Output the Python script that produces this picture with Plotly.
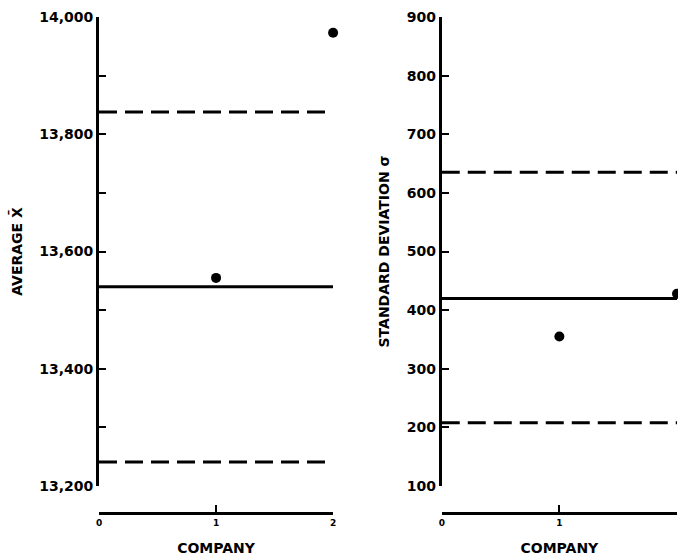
import plotly.graph_objects as go

# -------------------------------------------------
# DATA
# -------------------------------------------------
companies = [1, 2]
limit_x = [0, 2]
company_ticks = [0, 1, 2]

avg_values = [13555, 13973]
avg_center = 13540
avg_ucl = 13838
avg_lcl = 13241
avg_ticks = [13200, 13400, 13600, 13800, 14000]
avg_tick_text = ["13,200", "13,400", "13,600", "13,800", "14,000"]

sd_values = [355, 428]
sd_center = 420
sd_ucl = 635
sd_lcl = 208
sd_ticks = [100, 200, 300, 400, 500, 600, 700, 800, 900]

FONT = "DejaVu Sans"
INK = "black"


def _limit(y, xa, ya, dash):
    return go.Scatter(
        x=limit_x, y=[y, y], mode="lines", xaxis=xa, yaxis=ya,
        line=dict(color=INK, width=3, dash=dash),
        hoverinfo="skip",
    )


def _points(vals, xa, ya):
    return go.Scatter(
        x=companies, y=vals, mode="markers", xaxis=xa, yaxis=ya,
        marker=dict(color=INK, size=10), cliponaxis=False,
    )


fig = go.Figure()

# left: averages
fig.add_trace(_limit(avg_ucl, "x", "y", "18px,8px"))
fig.add_trace(_limit(avg_center, "x", "y", "solid"))
fig.add_trace(_limit(avg_lcl, "x", "y", "18px,8px"))
fig.add_trace(_points(avg_values, "x", "y"))

# right: standard deviations
fig.add_trace(_limit(sd_ucl, "x2", "y2", "18px,8px"))
fig.add_trace(_limit(sd_center, "x2", "y2", "solid"))
fig.add_trace(_limit(sd_lcl, "x2", "y2", "18px,8px"))
fig.add_trace(_points(sd_values, "x2", "y2"))

tick_font = dict(family=FONT, size=14, color=INK, weight="bold")
title_font = dict(family=FONT, size=14, color=INK, weight="bold")

x_common = dict(
    range=[0, 2], tickvals=company_ticks, anchor="free", position=0,
    automargin=False,
    showline=True, linecolor=INK, linewidth=2.5,
    ticks="inside", ticklen=7, tickwidth=2, tickcolor=INK,
    showgrid=False, zeroline=False,
    tickfont=dict(family=FONT, size=9, color=INK, weight="bold"),
    title=dict(text="COMPANY", font=title_font, standoff=16),
)

y_common = dict(
    domain=[0.0544, 1], automargin=False,
    showline=True, linecolor=INK, linewidth=3,
    ticks="inside", ticklen=7, tickwidth=2, tickcolor=INK,
    showgrid=False, zeroline=False,
    tickfont=tick_font,
)

fig.update_layout(
    width=678,
    height=558,
    autosize=False,
    margin=dict(l=99, r=1, t=17, b=45, autoexpand=False),
    paper_bgcolor="white",
    plot_bgcolor="white",
    showlegend=False,
    hovermode=False,
    xaxis=dict(domain=[0, 0.405], **x_common),
    xaxis2=dict(domain=[0.593, 1], **x_common),
    yaxis=dict(
        anchor="x", range=[13200, 14000],
        tickvals=avg_ticks, ticktext=avg_tick_text,
        minor=dict(dtick=100, tick0=13200, ticks="inside", ticklen=7,
                   tickwidth=2, tickcolor=INK),
        title=dict(text="AVERAGE X̄", font=title_font, standoff=14),
        **y_common,
    ),
    yaxis2=dict(
        anchor="x2", range=[100, 900], tickvals=sd_ticks,
        title=dict(text="STANDARD DEVIATION σ", font=title_font, standoff=14),
        **y_common,
    ),
)

# drop the default page margin so the figure fills the window exactly
fig.write_html(
    "out.html",
    config={"displayModeBar": False},
    post_script="document.body.style.margin='0';"
                "document.documentElement.style.overflow='hidden';",
)
